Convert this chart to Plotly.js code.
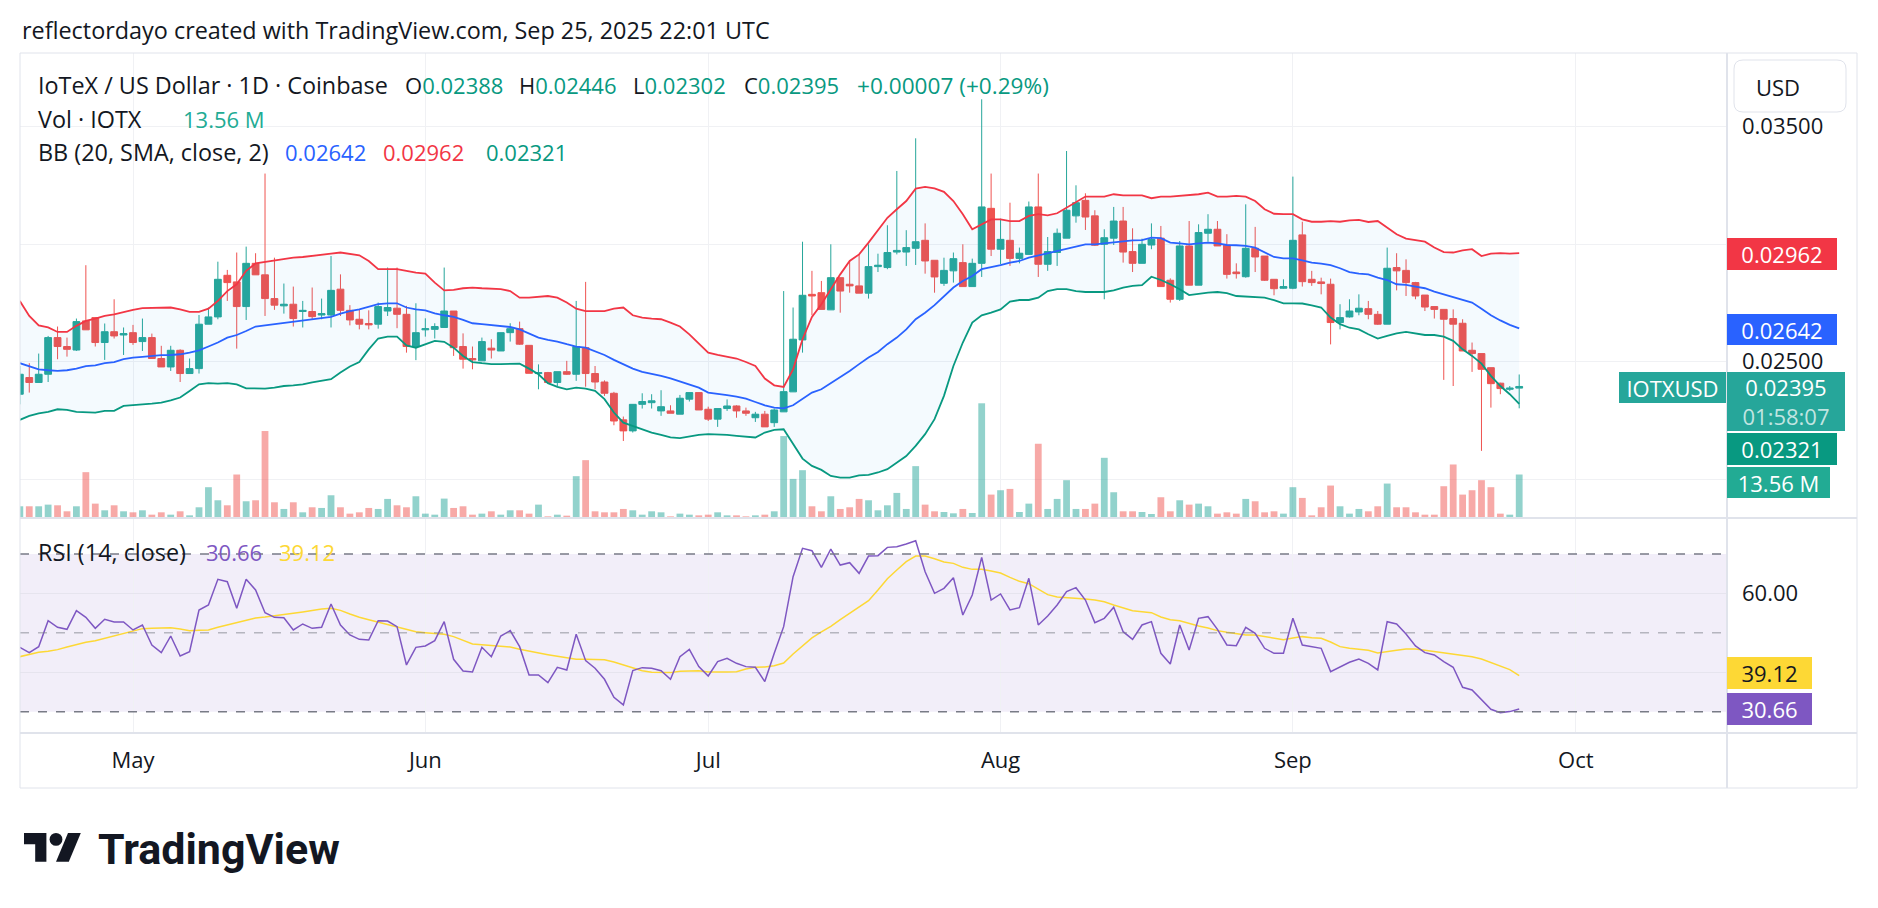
<!DOCTYPE html>
<html><head><meta charset="utf-8">
<script src="https://cdn.plot.ly/plotly-3.0.1.min.js"></script>
<style>html,body{margin:0;padding:0;background:#fff;}#chart{width:1878px;height:908px;}</style>
</head><body><div id="chart"></div>
<script>
const startDate = '2025-04-19';
const headerText = 'reflectordayo created with TradingView.com, Sep 25, 2025 22:01 UTC';
const symbolText = 'IoTeX / US Dollar · 1D · Coinbase';
const countdown = '01:58:07';
const priceTickVals = [0.020, 0.025, 0.030, 0.035];
const priceTickText = ['', '0.02500', '', '0.03500'];
const rsiTickVals = [40, 60];
const rsiTickText = ['', '60.00'];

const opens = [0.02362,0.02433,0.02412,0.02447,0.02603,0.02565,0.02550,0.02674,0.02688,0.02582,
0.02628,0.02614,0.02624,0.02586,0.02603,0.02514,0.02478,0.02549,0.02450,0.02471,
0.02660,0.02691,0.02868,0.02840,0.02735,0.02919,0.02870,0.02769,0.02738,0.02745,
0.02714,0.02714,0.02699,0.02699,0.02809,0.02719,0.02681,0.02663,0.02660,0.02716,
0.02728,0.02702,0.02565,0.02636,0.02638,0.02646,0.02716,0.02565,0.02514,0.02504,
0.02558,0.02546,0.02624,0.02641,0.02570,0.02450,0.02454,0.02412,0.02458,0.02447,
0.02560,0.02450,0.02414,0.02366,0.02253,0.02206,0.02319,0.02326,0.02291,0.02291,
0.02277,0.02341,0.02369,0.02298,0.02256,0.02301,0.02312,0.02291,0.02262,0.02277,
0.02241,0.02287,0.02372,0.02593,0.02787,0.02794,0.02721,0.02858,0.02830,0.02823,
0.02792,0.02905,0.02901,0.02967,0.02967,0.02983,0.03017,0.02932,0.02834,0.02887,
0.02922,0.02820,0.02919,0.03153,0.02979,0.03017,0.02940,0.02957,0.03159,0.02915,
0.02965,0.03026,0.03121,0.03187,0.03121,0.03000,0.03026,0.03099,0.02969,0.02919,
0.02997,0.03026,0.02847,0.02766,0.02993,0.02826,0.03047,0.03064,0.02996,0.02882,
0.02862,0.02983,0.02950,0.02851,0.02813,0.02813,0.03040,0.02851,0.02840,0.02830,
0.02667,0.02691,0.02712,0.02726,0.02702,0.02660,0.02901,0.02889,0.02837,0.02784,
0.02735,0.02723,0.02684,0.02664,0.02549,0.02535,0.02475,0.02409,0.02383,0.02388];
const highs = [0.02482,0.02494,0.02535,0.02610,0.02650,0.02603,0.02684,0.02911,0.02688,0.02663,
0.02766,0.02646,0.02657,0.02684,0.02620,0.02568,0.02568,0.02553,0.02514,0.02699,
0.02731,0.02926,0.02891,0.02965,0.02990,0.02962,0.03301,0.02943,0.02833,0.02820,
0.02759,0.02816,0.02769,0.02950,0.02872,0.02741,0.02723,0.02719,0.02752,0.02901,
0.02901,0.02738,0.02749,0.02685,0.02664,0.02901,0.02716,0.02621,0.02565,0.02603,
0.02596,0.02624,0.02664,0.02671,0.02570,0.02489,0.02457,0.02458,0.02504,0.02759,
0.02840,0.02482,0.02421,0.02372,0.02267,0.02319,0.02366,0.02362,0.02379,0.02315,
0.02359,0.02369,0.02369,0.02309,0.02301,0.02340,0.02315,0.02305,0.02287,0.02291,
0.02301,0.02801,0.02731,0.03011,0.02887,0.02844,0.03000,0.02858,0.02933,0.02957,
0.03000,0.02960,0.03081,0.03312,0.03060,0.03451,0.03089,0.02932,0.02943,0.02965,
0.03000,0.02939,0.03617,0.03301,0.03109,0.03177,0.02986,0.03182,0.03301,0.03031,
0.03067,0.03397,0.03251,0.03217,0.03145,0.03064,0.03159,0.03159,0.03068,0.03024,
0.03089,0.03078,0.02855,0.03014,0.03099,0.03085,0.03128,0.03099,0.03043,0.02919,
0.03170,0.03074,0.02950,0.02851,0.02851,0.03288,0.03096,0.02887,0.02858,0.02854,
0.02745,0.02766,0.02787,0.02759,0.02716,0.02986,0.02962,0.02936,0.02840,0.02784,
0.02735,0.02723,0.02723,0.02681,0.02582,0.02535,0.02475,0.02411,0.02397,0.02446];
const lows = [0.02319,0.02369,0.02412,0.02414,0.02511,0.02522,0.02546,0.02636,0.02565,0.02508,
0.02599,0.02529,0.02572,0.02546,0.02514,0.02478,0.02461,0.02414,0.02450,0.02450,
0.02660,0.02681,0.02759,0.02556,0.02678,0.02870,0.02695,0.02721,0.02705,0.02650,
0.02646,0.02678,0.02681,0.02646,0.02695,0.02655,0.02638,0.02638,0.02641,0.02695,
0.02643,0.02539,0.02507,0.02607,0.02599,0.02646,0.02525,0.02471,0.02468,0.02504,
0.02514,0.02546,0.02586,0.02572,0.02451,0.02383,0.02409,0.02397,0.02444,0.02419,
0.02394,0.02383,0.02355,0.02230,0.02163,0.02199,0.02301,0.02301,0.02270,0.02281,
0.02277,0.02331,0.02295,0.02248,0.02223,0.02291,0.02262,0.02270,0.02244,0.02223,
0.02223,0.02287,0.02372,0.02539,0.02698,0.02723,0.02721,0.02709,0.02794,0.02792,
0.02769,0.02882,0.02894,0.02957,0.02908,0.02912,0.02875,0.02794,0.02823,0.02837,
0.02820,0.02820,0.02861,0.02950,0.02915,0.02908,0.02919,0.02957,0.02861,0.02887,
0.02908,0.03026,0.03092,0.03061,0.02993,0.02766,0.02997,0.02922,0.02882,0.02919,
0.02979,0.02820,0.02752,0.02759,0.02826,0.02826,0.03011,0.02993,0.02854,0.02854,
0.02858,0.02882,0.02844,0.02783,0.02811,0.02809,0.02820,0.02823,0.02787,0.02574,
0.02638,0.02688,0.02698,0.02681,0.02657,0.02660,0.02804,0.02780,0.02766,0.02716,
0.02684,0.02423,0.02397,0.02546,0.02457,0.02121,0.02305,0.02362,0.02376,0.02302];
const closes = [0.02447,0.02412,0.02447,0.02603,0.02565,0.02553,0.02671,0.02636,0.02582,0.02628,
0.02610,0.02620,0.02582,0.02603,0.02514,0.02478,0.02549,0.02450,0.02471,0.02660,
0.02691,0.02851,0.02837,0.02735,0.02919,0.02870,0.02769,0.02741,0.02745,0.02684,
0.02719,0.02692,0.02705,0.02804,0.02719,0.02678,0.02660,0.02657,0.02735,0.02731,
0.02702,0.02565,0.02624,0.02641,0.02650,0.02716,0.02560,0.02511,0.02508,0.02586,
0.02550,0.02624,0.02641,0.02575,0.02451,0.02454,0.02412,0.02458,0.02447,0.02565,
0.02450,0.02414,0.02366,0.02248,0.02206,0.02319,0.02331,0.02334,0.02309,0.02281,
0.02345,0.02369,0.02295,0.02256,0.02301,0.02312,0.02291,0.02281,0.02277,0.02223,
0.02295,0.02373,0.02596,0.02783,0.02780,0.02723,0.02858,0.02801,0.02823,0.02792,
0.02905,0.02911,0.02965,0.02974,0.02986,0.03011,0.02929,0.02861,0.02889,0.02939,
0.02820,0.02919,0.03159,0.02979,0.03021,0.02940,0.02962,0.03159,0.02915,0.02969,
0.03047,0.03145,0.03177,0.03116,0.02996,0.03028,0.03099,0.02967,0.02919,0.03000,
0.03021,0.02820,0.02766,0.02993,0.02826,0.03050,0.03064,0.02993,0.02872,0.02875,
0.02983,0.02946,0.02847,0.02811,0.02820,0.03017,0.02841,0.02837,0.02833,0.02667,
0.02688,0.02716,0.02728,0.02702,0.02660,0.02898,0.02887,0.02837,0.02780,0.02733,
0.02723,0.02681,0.02660,0.02546,0.02535,0.02468,0.02407,0.02386,0.02388,0.02395];
const volumesM = [3.65,3.65,3.65,4.17,3.96,2.09,3.65,14.29,4.48,2.40,
3.96,2.09,1.77,2.40,1.04,1.77,1.04,2.09,0.83,3.34,
9.60,5.53,3.96,13.56,5.22,5.53,27.12,4.90,2.82,4.90,
1.77,3.34,3.13,7.09,3.34,1.36,1.77,3.13,2.82,5.95,
3.96,3.34,6.78,1.36,1.04,6.05,3.13,3.65,1.04,1.36,
2.09,1.04,2.40,2.40,1.36,4.17,0.52,1.04,0.73,13.04,
18.04,2.09,1.77,1.77,2.82,2.40,1.04,2.09,1.77,0.52,
1.36,1.04,0.83,1.04,1.77,0.83,0.83,0.52,0.83,1.04,
2.09,25.55,12.20,14.91,3.65,2.09,6.78,2.82,3.34,5.95,
5.53,2.40,3.96,7.82,2.82,16.17,4.17,2.09,1.88,1.46,
2.82,1.56,35.77,7.30,8.66,9.07,1.88,4.48,23.15,2.82,
5.95,11.79,2.82,2.82,4.48,18.77,8.03,2.09,2.09,1.88,
1.25,6.47,2.09,5.53,4.17,4.48,3.65,1.36,1.77,1.36,
5.95,5.22,1.77,2.09,1.36,9.60,6.26,0.83,3.34,10.12,
3.65,1.36,2.82,2.09,3.65,10.74,3.34,3.34,1.77,1.04,
1.04,9.91,16.69,7.30,8.66,11.79,9.60,1.36,1.04,13.56];
const bbUpper = [0.02759,0.02695,0.02655,0.02646,0.02627,0.02627,0.02653,0.02674,0.02684,0.02695,
0.02702,0.02712,0.02721,0.02728,0.02728,0.02728,0.02731,0.02723,0.02712,0.02712,
0.02726,0.02759,0.02801,0.02830,0.02887,0.02919,0.02925,0.02933,0.02939,0.02943,
0.02946,0.02950,0.02953,0.02960,0.02965,0.02960,0.02953,0.02929,0.02894,0.02894,
0.02894,0.02887,0.02879,0.02875,0.02837,0.02804,0.02806,0.02813,0.02816,0.02813,
0.02811,0.02809,0.02801,0.02773,0.02773,0.02776,0.02780,0.02773,0.02752,0.02726,
0.02716,0.02716,0.02716,0.02726,0.02731,0.02698,0.02688,0.02684,0.02681,0.02667,
0.02650,0.02617,0.02579,0.02539,0.02529,0.02521,0.02514,0.02499,0.02482,0.02429,
0.02400,0.02393,0.02468,0.02596,0.02691,0.02745,0.02809,0.02872,0.02929,0.02957,
0.03007,0.03060,0.03113,0.03149,0.03184,0.03237,0.03244,0.03238,0.03223,0.03184,
0.03128,0.03064,0.03085,0.03106,0.03106,0.03099,0.03099,0.03121,0.03128,0.03123,
0.03132,0.03156,0.03177,0.03203,0.03203,0.03203,0.03213,0.03208,0.03208,0.03208,
0.03196,0.03203,0.03203,0.03206,0.03208,0.03213,0.03220,0.03203,0.03203,0.03206,
0.03203,0.03184,0.03149,0.03130,0.03128,0.03128,0.03106,0.03096,0.03096,0.03099,
0.03096,0.03102,0.03104,0.03095,0.03099,0.03071,0.03043,0.03024,0.03018,0.03011,
0.02986,0.02967,0.02965,0.02974,0.02979,0.02950,0.02960,0.02962,0.02960,0.02962];
const bbBasis = [0.02494,0.02480,0.02468,0.02464,0.02461,0.02464,0.02471,0.02482,0.02485,0.02494,
0.02499,0.02511,0.02518,0.02521,0.02525,0.02528,0.02529,0.02532,0.02539,0.02549,
0.02565,0.02582,0.02603,0.02614,0.02631,0.02650,0.02655,0.02660,0.02667,0.02671,
0.02674,0.02681,0.02684,0.02691,0.02705,0.02716,0.02723,0.02733,0.02745,0.02749,
0.02749,0.02731,0.02723,0.02719,0.02706,0.02698,0.02691,0.02678,0.02664,0.02660,
0.02655,0.02650,0.02648,0.02638,0.02620,0.02603,0.02593,0.02586,0.02575,0.02565,
0.02560,0.02546,0.02529,0.02508,0.02490,0.02471,0.02457,0.02450,0.02440,0.02429,
0.02416,0.02404,0.02390,0.02369,0.02362,0.02358,0.02352,0.02343,0.02329,0.02315,
0.02305,0.02302,0.02315,0.02341,0.02369,0.02383,0.02409,0.02433,0.02461,0.02490,
0.02518,0.02542,0.02575,0.02603,0.02638,0.02681,0.02709,0.02741,0.02780,0.02816,
0.02844,0.02865,0.02894,0.02901,0.02911,0.02922,0.02929,0.02943,0.02953,0.02962,
0.02972,0.02982,0.02993,0.03000,0.03000,0.03004,0.03010,0.03014,0.03017,0.03018,
0.03028,0.03026,0.03007,0.03004,0.03000,0.03004,0.03007,0.03004,0.02997,0.02996,
0.02993,0.02986,0.02965,0.02946,0.02940,0.02940,0.02932,0.02922,0.02918,0.02911,
0.02898,0.02882,0.02875,0.02872,0.02858,0.02848,0.02830,0.02827,0.02820,0.02813,
0.02799,0.02787,0.02777,0.02766,0.02752,0.02726,0.02698,0.02676,0.02657,0.02642];
const bbLower = [0.02253,0.02270,0.02281,0.02287,0.02298,0.02295,0.02287,0.02284,0.02284,0.02291,
0.02291,0.02312,0.02317,0.02319,0.02322,0.02326,0.02336,0.02348,0.02376,0.02404,
0.02409,0.02407,0.02409,0.02404,0.02387,0.02386,0.02386,0.02390,0.02397,0.02400,
0.02404,0.02412,0.02419,0.02426,0.02454,0.02480,0.02499,0.02553,0.02599,0.02607,
0.02607,0.02570,0.02560,0.02575,0.02589,0.02585,0.02560,0.02525,0.02499,0.02494,
0.02490,0.02490,0.02490,0.02492,0.02471,0.02447,0.02409,0.02393,0.02383,0.02390,
0.02386,0.02376,0.02341,0.02284,0.02241,0.02227,0.02213,0.02199,0.02189,0.02178,
0.02175,0.02182,0.02189,0.02192,0.02192,0.02189,0.02185,0.02182,0.02178,0.02199,
0.02210,0.02213,0.02153,0.02088,0.02057,0.02040,0.02014,0.02007,0.02007,0.02017,
0.02019,0.02029,0.02043,0.02071,0.02099,0.02142,0.02192,0.02256,0.02355,0.02482,
0.02582,0.02667,0.02698,0.02709,0.02723,0.02756,0.02763,0.02763,0.02773,0.02801,
0.02809,0.02809,0.02801,0.02797,0.02797,0.02797,0.02804,0.02816,0.02823,0.02826,
0.02862,0.02848,0.02830,0.02809,0.02784,0.02790,0.02794,0.02797,0.02792,0.02780,
0.02777,0.02777,0.02773,0.02762,0.02749,0.02749,0.02748,0.02740,0.02731,0.02688,
0.02660,0.02645,0.02638,0.02617,0.02599,0.02610,0.02621,0.02627,0.02621,0.02614,
0.02614,0.02607,0.02589,0.02553,0.02525,0.02492,0.02440,0.02397,0.02362,0.02321];
const rsi = [46.33,44.98,46.50,53.09,51.40,50.90,55.63,53.94,51.15,53.43,
52.76,52.76,50.73,52.00,46.92,44.98,49.20,44.13,45.23,55.80,
57.07,63.58,62.98,56.22,63.58,60.87,55.12,53.94,53.85,50.73,
52.25,51.15,51.40,57.32,52.00,49.46,48.36,48.19,53.09,53.01,
51.57,41.85,46.33,46.67,48.02,52.84,43.29,40.33,40.08,46.33,
43.96,49.20,50.56,46.50,39.32,39.32,37.37,41.26,40.58,49.63,
42.95,41.01,38.22,33.65,31.71,40.41,41.17,41.01,40.41,38.22,
43.96,45.82,41.43,39.06,42.70,43.54,42.27,41.43,41.26,37.63,
44.81,51.57,64.25,71.44,70.85,66.62,71.27,67.21,67.80,65.10,
69.49,69.58,71.69,71.86,72.54,73.38,65.52,60.03,61.29,64.00,
54.53,59.60,69.15,58.33,59.86,55.80,56.39,63.83,52.00,54.28,
57.07,60.45,61.46,58.33,52.59,53.69,56.48,50.30,48.36,52.00,
52.84,44.81,42.10,52.00,45.66,53.69,54.11,50.90,46.92,46.75,
51.40,49.88,46.08,44.81,44.81,53.69,46.92,46.50,46.08,40.16,
41.43,42.53,43.37,42.27,40.58,52.84,52.25,49.71,46.67,44.98,
44.39,42.70,41.26,36.19,35.51,33.14,30.61,29.76,30.02,30.66];
const rsiMA = [43.96,44.56,45.06,45.32,45.74,46.42,47.09,47.60,48.02,48.61,
49.20,49.80,50.30,51.07,51.15,51.23,51.32,50.98,50.56,50.64,
50.73,51.40,52.00,52.59,53.18,53.77,54.02,54.28,54.62,54.95,
55.29,55.71,56.05,56.22,55.71,54.78,53.94,53.35,52.76,52.16,
51.49,50.81,50.30,50.05,49.88,49.63,49.04,48.19,47.18,47.01,
46.75,46.67,46.42,45.82,45.32,44.98,44.47,44.05,43.63,43.29,
43.29,43.29,43.20,42.61,41.94,41.09,40.41,39.99,39.91,39.91,
40.25,40.41,40.41,40.08,39.99,40.08,40.16,40.84,41.26,41.34,
41.68,42.36,44.64,46.75,48.70,50.22,51.66,53.35,54.95,56.56,
58.17,60.87,63.74,65.94,68.06,69.49,69.49,68.82,67.97,67.63,
66.62,66.11,66.11,65.69,65.18,64.08,63.07,62.48,61.12,59.69,
59.10,58.93,58.93,58.59,58.33,57.91,57.07,56.31,55.63,55.38,
55.12,54.02,53.35,53.09,52.33,51.74,51.23,50.56,50.14,49.71,
49.46,49.46,49.12,48.78,48.28,48.70,49.04,48.78,48.61,47.68,
46.50,46.08,45.82,45.57,44.89,45.15,45.57,45.91,45.91,45.57,
45.23,45.06,44.64,44.39,43.96,43.37,42.53,41.60,40.67,39.12];

// ---------- derived ----------
const N = closes.length;
const dates = [];
{ const t0 = Date.parse(startDate + 'T00:00:00Z');
  for (let i = 0; i < N; i++) dates.push(new Date(t0 + i * 86400000).toISOString().slice(0, 10)); }
const UP = '#26A69A', DN = '#EF5350';
const volColors = closes.map((c, i) => c >= opens[i] ? 'rgba(38,166,154,0.5)' : 'rgba(239,83,80,0.5)');
const last = N - 1;
const f5 = v => v.toFixed(5);
const chg = closes[last] - closes[last - 1];
const chgPct = chg / closes[last - 1] * 100;
const sign = v => (v >= 0 ? '+' : '−');

// ---------- layout geometry (pixels) ----------
const L = 20, R = 1726, T = 53, B = 733, SPLIT = 518;
const X = p => (p - L) / (R - L);
const Y = p => (B - p) / (B - T);
const FONT = '"Open Sans", "Noto Sans", sans-serif';
const FS = 22;      // axis + price tags + OHLC values
const FL = 23.4;    // header + legend words
const INK = '#131722';

const traces = [
  { type: 'bar', x: dates, y: volumesM, xaxis: 'x', yaxis: 'y', marker: { color: volColors, line: { width: 0 } },
    width: 0.72 * 86400000, hoverinfo: 'skip' },
  { type: 'scatter', mode: 'lines', x: dates, y: bbLower, xaxis: 'x', yaxis: 'y2', line: { color: '#089981', width: 1.8 }, hoverinfo: 'skip' },
  { type: 'scatter', mode: 'lines', x: dates, y: bbUpper, xaxis: 'x', yaxis: 'y2', line: { color: '#F23645', width: 1.8 },
    fill: 'tonexty', fillcolor: 'rgba(33,150,243,0.05)', hoverinfo: 'skip' },
  { type: 'scatter', mode: 'lines', x: dates, y: bbBasis, xaxis: 'x', yaxis: 'y2', line: { color: '#2962FF', width: 1.8 }, hoverinfo: 'skip' },
  { type: 'candlestick', x: dates, open: opens, high: highs, low: lows, close: closes, xaxis: 'x', yaxis: 'y2',
    increasing: { line: { color: UP, width: 1 }, fillcolor: UP },
    decreasing: { line: { color: DN, width: 1 }, fillcolor: DN }, whiskerwidth: 0, hoverinfo: 'skip' },
  { type: 'scatter', mode: 'lines', x: dates, y: rsiMA, xaxis: 'x', yaxis: 'y3', line: { color: '#FDD835', width: 1.5 }, hoverinfo: 'skip' },
  { type: 'scatter', mode: 'lines', x: dates, y: rsi, xaxis: 'x', yaxis: 'y3', line: { color: '#7E57C2', width: 1.5 }, hoverinfo: 'skip' }
];

function txt(text, left, cy, size, color, extra) {
  return Object.assign({ xref: 'paper', yref: 'paper', x: X(left), y: Y(cy), xanchor: 'left', yanchor: 'middle',
    text: text, showarrow: false, font: { family: FONT, size: size, color: color || INK } }, extra || {});
}
function tag(text, left, right, top, bottom, bg, fg) {
  return { xref: 'paper', yref: 'paper', x: X(left), y: Y((top + bottom) / 2), xanchor: 'left', yanchor: 'middle',
    text: text, showarrow: false, bgcolor: bg, borderwidth: 0, borderpad: 0, width: right - left, height: bottom - top,
    align: 'center', valign: 'middle', font: { family: FONT, size: FS, color: fg || '#ffffff' } };
}
const c = (col, s) => '<span style="color:' + col + '">' + s + '</span>';
const TEAL = '#089981';

const annotations = [
  txt(headerText, 20, 30, FL, INK),
  txt(symbolText, 36, 85, FL, INK),
  txt('O' + c(TEAL, f5(opens[last])), 403, 85, FS, INK),
  txt('H' + c(TEAL, f5(highs[last])), 517, 85, FS, INK),
  txt('L' + c(TEAL, f5(lows[last])), 631, 85, FS, INK),
  txt('C' + c(TEAL, f5(closes[last])), 742, 85, FS, INK),
  txt(c(TEAL, sign(chg) + f5(Math.abs(chg)) + ' (' + sign(chgPct) + Math.abs(chgPct).toFixed(2) + '%)'), 855, 85, FS + 0.6, INK),
  txt('Vol · IOTX', 36, 119, FL, INK),
  txt(c('#22AB94', volumesM[last].toFixed(2) + ' M'), 181, 119, FS, INK),
  txt('BB (20, SMA, close, 2)', 36, 152, FL, INK),
  txt(c('#2962FF', f5(bbBasis[last])), 283, 152, FS, INK),
  txt(c('#F23645', f5(bbUpper[last])), 381, 152, FS, INK),
  txt(c('#089981', f5(bbLower[last])), 484, 152, FS, INK),
  txt('RSI (14, close)', 36, 552, FL, INK),
  txt(c('#7E57C2', rsi[last].toFixed(2)), 204, 552, FS, INK),
  txt(c('#FDD835', rsiMA[last].toFixed(2)), 277, 552, FS, INK),
  txt('USD', 1754, 87, FS, INK),
  tag(f5(bbUpper[last]), 1727, 1837, 238, 270, '#F23645'),
  tag(f5(bbBasis[last]), 1727, 1837, 314, 345, '#2962FF'),
  tag(f5(closes[last]) + '<br>' + c('rgba(255,255,255,0.72)', countdown), 1727, 1845, 372, 431, UP),
  tag(f5(bbLower[last]), 1727, 1837, 433, 465, '#089981'),
  tag(volumesM[last].toFixed(2) + ' M', 1727, 1830, 467, 498, '#22AB94'),
  tag('IOTXUSD', 1619, 1726, 372, 403, UP),
  tag(rsiMA[last].toFixed(2), 1727, 1812, 657, 689, '#FDD835', INK),
  tag(rsi[last].toFixed(2), 1727, 1812, 693, 725, '#7E57C2'),
  Object.assign(txt('<b>TradingView</b>', 96, 849, 43, INK), { font: { family: 'Roboto, sans-serif', size: 43, color: INK } })
];

function pathPx(pts) {
  return 'M' + pts.map(p => X(p[0]) + ',' + Y(p[1])).join(' L') + ' Z';
}
function roundRectPx(x0, y0, x1, y1, r) {
  const P = (x, y) => X(x) + ',' + Y(y);
  return 'M' + P(x0 + r, y0) + ' L' + P(x1 - r, y0) + ' Q' + P(x1, y0) + ' ' + P(x1, y0 + r) +
    ' L' + P(x1, y1 - r) + ' Q' + P(x1, y1) + ' ' + P(x1 - r, y1) + ' L' + P(x0 + r, y1) +
    ' Q' + P(x0, y1) + ' ' + P(x0, y1 - r) + ' L' + P(x0, y0 + r) + ' Q' + P(x0, y0) + ' ' + P(x0 + r, y0) + ' Z';
}
const lg = (u, v) => [24 + 1.6 * u, 826.6 + 1.6 * v];
const FR = '#E0E3EB';
const shapes = [
  { type: 'rect', xref: 'paper', yref: 'y3', x0: 0, x1: 1, y0: 30, y1: 70, fillcolor: 'rgba(126,87,194,0.1)', line: { width: 0 }, layer: 'below' },
  { type: 'line', xref: 'paper', yref: 'y3', x0: 0, x1: 1, y0: 70, y1: 70, line: { color: '#787B86', width: 1.5, dash: 'dash' } },
  { type: 'line', xref: 'paper', yref: 'y3', x0: 0, x1: 1, y0: 50, y1: 50, line: { color: 'rgba(120,123,134,0.5)', width: 1.5, dash: 'dash' } },
  { type: 'line', xref: 'paper', yref: 'y3', x0: 0, x1: 1, y0: 30, y1: 30, line: { color: '#787B86', width: 1.5, dash: 'dash' } },
  { type: 'rect', xref: 'paper', yref: 'paper', x0: X(20), x1: X(1857), y0: Y(53), y1: Y(788), line: { color: FR, width: 1 } },
  { type: 'line', xref: 'paper', yref: 'paper', x0: X(1727), x1: X(1727), y0: Y(53), y1: Y(788), line: { color: FR, width: 2 } },
  { type: 'line', xref: 'paper', yref: 'paper', x0: X(20), x1: X(1857), y0: Y(SPLIT), y1: Y(SPLIT), line: { color: FR, width: 2 } },
  { type: 'line', xref: 'paper', yref: 'paper', x0: X(20), x1: X(1857), y0: Y(733), y1: Y(733), line: { color: FR, width: 2 } },
  { type: 'path', xref: 'paper', yref: 'paper', path: roundRectPx(1734, 60, 1846, 112, 9), line: { color: FR, width: 1 }, fillcolor: '#ffffff' },
  { type: 'path', xref: 'paper', yref: 'paper', path: pathPx([lg(14, 22), lg(7, 22), lg(7, 11), lg(0, 11), lg(0, 4), lg(14, 4)]), fillcolor: INK, line: { width: 0 } },
  { type: 'circle', xref: 'paper', yref: 'paper', x0: X(lg(16, 0)[0]), x1: X(lg(24, 0)[0]), y0: Y(lg(0, 4)[1]), y1: Y(lg(0, 12)[1]), fillcolor: INK, line: { width: 0 } },
  { type: 'path', xref: 'paper', yref: 'paper', path: pathPx([lg(28, 22), lg(20, 22), lg(27.5, 4), lg(35.5, 4)]), fillcolor: INK, line: { width: 0 } }
];

const GRID = '#F0F1F4';
const pricePaneBottom = Y(SPLIT);
const layout = {
  width: 1878, height: 908,
  margin: { l: L, r: 1878 - R, t: T, b: 908 - B, pad: 0 },
  paper_bgcolor: '#ffffff', plot_bgcolor: '#ffffff',
  showlegend: false, hovermode: false, dragmode: false,
  boxgap: 0.2, boxgroupgap: 0.1,
  font: { family: FONT, color: INK },
  xaxis: { type: 'date', anchor: 'y3', domain: [0, 1], range: ['2025-04-19 00:25', '2025-10-16 22:19'],
    rangeslider: { visible: false }, tickformat: '%b', dtick: 'M1', tick0: '2025-05-01',
    showgrid: true, gridcolor: GRID, gridwidth: 1, showline: false, zeroline: false, ticks: '',
    tickfont: { family: FONT, size: FS, color: INK }, ticklabelstandoff: 12 },
  yaxis: { domain: [pricePaneBottom, 1], range: [0, 145], visible: false, fixedrange: true },
  yaxis2: { overlaying: 'y', anchor: 'x', side: 'right', range: [0.018353, 0.03814],
    tickvals: priceTickVals, ticktext: priceTickText, showgrid: true, gridcolor: GRID, zeroline: false,
    showline: false, ticks: '', tickfont: { family: FONT, size: FS, color: INK }, ticklabelstandoff: 15 },
  yaxis3: { domain: [0, pricePaneBottom], anchor: 'x', side: 'right', range: [24.59, 79.14],
    tickvals: rsiTickVals, ticktext: rsiTickText, showgrid: true, gridcolor: '#E6E4EE', zeroline: false,
    showline: false, ticks: '', tickfont: { family: FONT, size: FS, color: INK }, ticklabelstandoff: 15 },
  shapes: shapes,
  annotations: annotations
};

Plotly.newPlot('chart', traces, layout, { staticPlot: true, displayModeBar: false });
</script>
</body></html>
